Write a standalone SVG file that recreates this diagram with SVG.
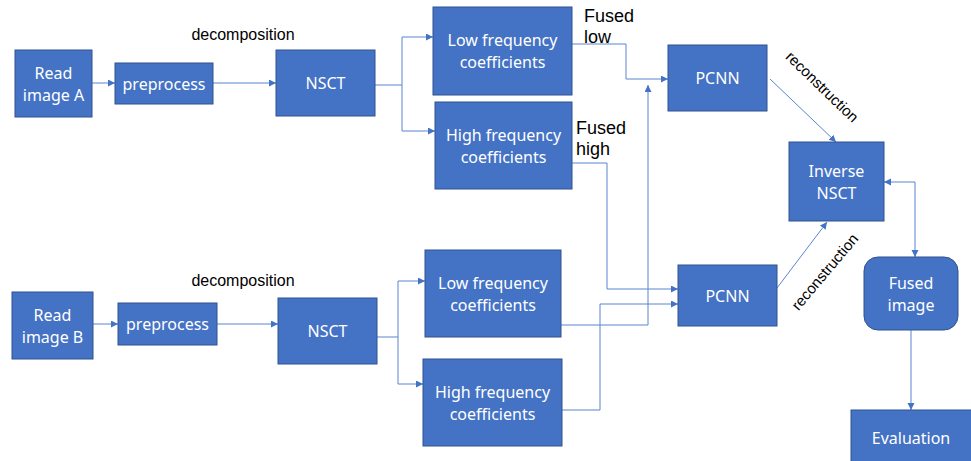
<svg xmlns="http://www.w3.org/2000/svg" width="971" height="461" viewBox="0 0 971 461">
<style>
.box{fill:#4472C4;stroke:#2F528F;stroke-width:1}
.bt{font-family:"Noto Sans","Open Sans","DejaVu Sans",sans-serif;font-size:16px;fill:#ffffff;text-anchor:middle}
.lbl{font-family:"Liberation Sans",Arial,sans-serif;fill:#000000}
.c{fill:none;stroke:#5B84CF;stroke-width:1}
</style>
<defs>
<marker id="ah" markerUnits="userSpaceOnUse" markerWidth="8" markerHeight="8" refX="7" refY="3.5" orient="auto-start-reverse">
<path d="M0,0 L7,3.5 L0,7 z" fill="#4472C4"/>
</marker>
</defs>
<rect width="971" height="461" fill="#ffffff"/>

<g id="connectors">
<path class="c" d="M92,83 H115" marker-end="url(#ah)"/>
<path class="c" d="M213,83 H276" marker-end="url(#ah)"/>
<path class="c" d="M375,85 H402 V37 H433" marker-end="url(#ah)"/>
<path class="c" d="M402,85 V131 H435" marker-end="url(#ah)"/>
<path class="c" d="M93,324 H118" marker-end="url(#ah)"/>
<path class="c" d="M217,324 H278" marker-end="url(#ah)"/>
<path class="c" d="M377,337 H398 V281 H425" marker-end="url(#ah)"/>
<path class="c" d="M398,337 V384 H423" marker-end="url(#ah)"/>
<path class="c" d="M572,44 H626 V79 H668" marker-end="url(#ah)"/>
<path class="c" d="M572,163 H607 V289 H678" marker-end="url(#ah)"/>
<path class="c" d="M561,325 H648 V85" marker-end="url(#ah)"/>
<path class="c" d="M562,410 H600 V304 H678" marker-end="url(#ah)"/>
<path class="c" d="M770,79 L836,142" marker-end="url(#ah)"/>
<path class="c" d="M777,288 L827,222" marker-end="url(#ah)"/>
<path class="c" d="M884,182 H915 V257" marker-start="url(#ah)" marker-end="url(#ah)"/>
<path class="c" d="M911,330 V410" marker-end="url(#ah)"/>
</g>

<g id="labels">
<text class="lbl" x="243" y="40" font-size="16" text-anchor="middle">decomposition</text>
<text class="lbl" x="243" y="286" font-size="16" text-anchor="middle">decomposition</text>
<text class="lbl" x="584" y="22" font-size="18">Fused</text>
<text class="lbl" x="584" y="43" font-size="18">low</text>
<text class="lbl" x="576" y="134" font-size="18">Fused</text>
<text class="lbl" x="576" y="155" font-size="18">high</text>
<text class="lbl" font-size="15" text-anchor="middle" transform="translate(822,87) rotate(44)" y="5">reconstruction</text>
<text class="lbl" font-size="15" text-anchor="middle" transform="translate(825,272) rotate(-50)" y="5">reconstruction</text>
</g>

<g id="readA"><rect class="box" x="15" y="50" width="77" height="67"/><text class="bt" x="53.5" y="78.5">Read</text><text class="bt" x="53.5" y="100.5">image A</text></g>
<g id="preA"><rect class="box" x="115" y="63" width="98" height="41"/><text class="bt" x="164" y="89.5">preprocess</text></g>
<g id="nsctA"><rect class="box" x="276" y="50" width="99" height="66"/><text class="bt" x="325.5" y="89">NSCT</text></g>
<g id="lowA"><rect class="box" x="433" y="7" width="139" height="88"/><text class="bt" x="502.5" y="46">Low frequency</text><text class="bt" x="502.5" y="68">coefficients</text></g>
<g id="highA"><rect class="box" x="435" y="102" width="137" height="87"/><text class="bt" x="503.5" y="140.5">High frequency</text><text class="bt" x="503.5" y="162.5">coefficients</text></g>
<g id="pcnnA"><rect class="box" x="668" y="45" width="99" height="66"/><text class="bt" x="717.5" y="84">PCNN</text></g>
<g id="inverse"><rect class="box" x="789" y="142" width="95" height="79"/><text class="bt" x="836.5" y="176.5">Inverse</text><text class="bt" x="836.5" y="198.5">NSCT</text></g>

<g id="readB"><rect class="box" x="12" y="292" width="81" height="67"/><text class="bt" x="52.5" y="320.5">Read</text><text class="bt" x="52.5" y="342.5">image B</text></g>
<g id="preB"><rect class="box" x="118" y="303" width="99" height="42"/><text class="bt" x="167.5" y="330">preprocess</text></g>
<g id="nsctB"><rect class="box" x="278" y="298" width="99" height="66"/><text class="bt" x="327.5" y="337">NSCT</text></g>
<g id="lowB"><rect class="box" x="425" y="250" width="136" height="87"/><text class="bt" x="493" y="288.5">Low frequency</text><text class="bt" x="493" y="310.5">coefficients</text></g>
<g id="highB"><rect class="box" x="423" y="359" width="139" height="87"/><text class="bt" x="492.5" y="397.5">High frequency</text><text class="bt" x="492.5" y="419.5">coefficients</text></g>
<g id="pcnnB"><rect class="box" x="678" y="265" width="99" height="61"/><text class="bt" x="727.5" y="301.5">PCNN</text></g>
<g id="fused"><rect class="box" x="864" y="257" width="94" height="73" rx="14" ry="14"/><text class="bt" x="911" y="288.5">Fused</text><text class="bt" x="911" y="310.5">image</text></g>
<g id="evaluation"><rect class="box" x="851" y="410" width="124" height="56"/><text class="bt" x="911" y="444">Evaluation</text></g>
</svg>
